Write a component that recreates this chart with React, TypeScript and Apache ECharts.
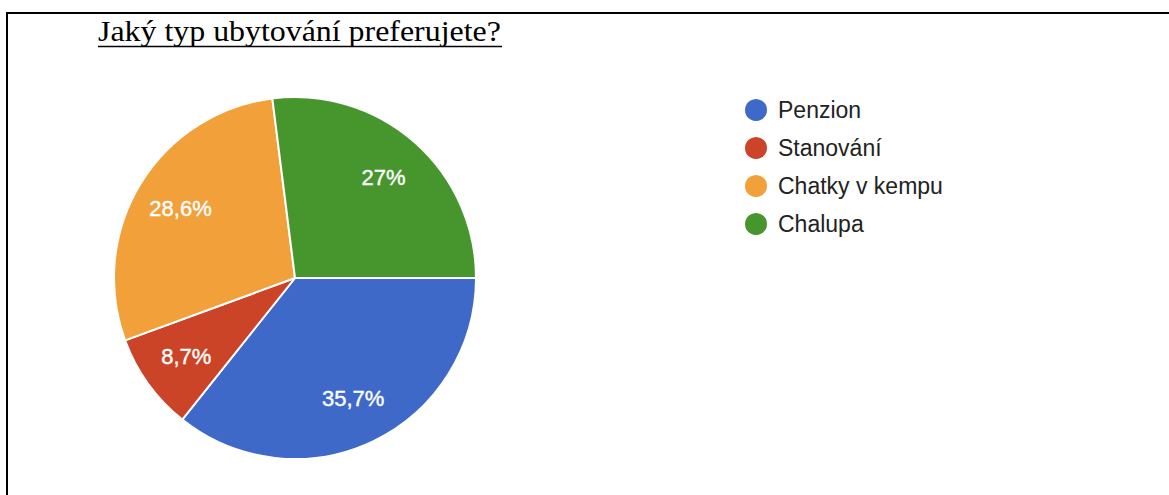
import React, { useEffect, useRef } from "react";
import * as echarts from "echarts";

const titleText = "Jaký typ ubytování preferujete?";
const categories = ["Penzion", "Stanování", "Chatky v kempu", "Chalupa"];
const values = [35.7, 8.7, 28.6, 27];
const colors = ["#3f69c9", "#cc4427", "#f1a03a", "#46962d"];

const fmt = (v: number) => String(v).replace(".", ",") + "%";

export default function App() {
  const ref = useRef<HTMLDivElement>(null);
  useEffect(() => {
    document.body.style.margin = "0";
    const chart = echarts.init(ref.current!, null, { renderer: "svg" });
    const data = categories.map((name, i) => ({ name, value: values[i] }));
    chart.setOption({
      animation: false,
      color: colors,
      graphic: [
        { type: "line", shape: { x1: 6, y1: 13, x2: 1169, y2: 13 }, style: { stroke: "#000", lineWidth: 2 } },
        { type: "line", shape: { x1: 7, y1: 12, x2: 7, y2: 495 }, style: { stroke: "#000", lineWidth: 2 } },
        {
          type: "text",
          x: 98,
          y: 17,
          scaleX: 1.1,
          style: {
            text: titleText,
            font: '29px "Liberation Serif", "Times New Roman", serif',
            fill: "#000",
            verticalAlign: "top",
          },
        },
        { type: "line", shape: { x1: 98, y1: 46.5, x2: 502, y2: 46.5 }, style: { stroke: "#000", lineWidth: 1.5 } },
      ],
      legend: {
        orient: "vertical",
        left: 743,
        top: 97,
        padding: 0,
        icon: "circle",
        itemWidth: 24,
        itemHeight: 24,
        itemGap: 12,
        data: categories,
        textStyle: {
          fontFamily: '"Liberation Sans", Arial, sans-serif',
          fontSize: 23,
          color: "#222",
          padding: [0, 0, 0, 5],
        },
      },
      series: [
        {
          type: "pie",
          center: [295, 278],
          radius: [0, 181],
          startAngle: 0,
          clockwise: true,
          data,
          label: { show: false },
          labelLine: { show: false },
          itemStyle: { borderColor: "#fff", borderWidth: 2 },
          emphasis: { disabled: true },
        },
        {
          type: "pie",
          center: [295, 278],
          radius: [82, 180],
          startAngle: 0,
          clockwise: true,
          silent: true,
          data,
          itemStyle: { color: "transparent" },
          label: {
            show: true,
            position: "inside",
            formatter: (p: any) => fmt(p.value),
            color: "#fff",
            fontSize: 22,
            fontWeight: "normal",
            fontFamily: '"Liberation Sans", Arial, sans-serif',
            textBorderColor: "#fff",
            textBorderWidth: 0.4,
          },
          labelLine: { show: false },
          emphasis: { disabled: true },
        },
      ],
    });
    return () => chart.dispose();
  }, []);
  return <div ref={ref} style={{ width: 1169, height: 495 }} />;
}
